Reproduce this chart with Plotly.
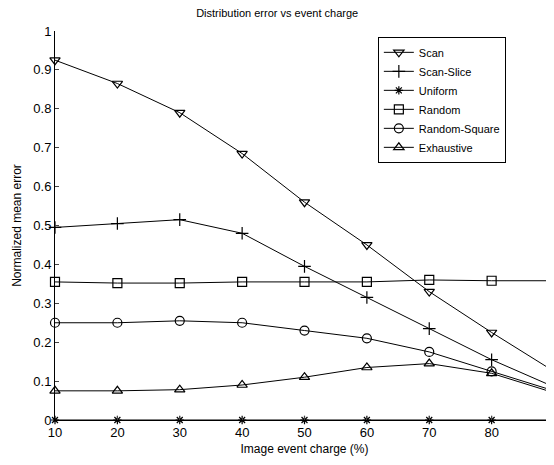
import plotly.graph_objects as go

x_vals = [10, 20, 30, 40, 50, 60, 70, 80, 90]
scan = [0.925, 0.865, 0.79, 0.685, 0.56, 0.45, 0.33, 0.225, 0.125]
scan_slice = [0.495, 0.505, 0.515, 0.48, 0.395, 0.315, 0.235, 0.155, 0.085]
uniform = [0, 0, 0, 0, 0, 0, 0, 0, 0]
random_ = [0.355, 0.352, 0.352, 0.355, 0.355, 0.355, 0.36, 0.358, 0.358]
random_square = [0.25, 0.25, 0.255, 0.25, 0.23, 0.21, 0.175, 0.125, 0.075]
exhaustive = [0.075, 0.075, 0.078, 0.09, 0.11, 0.135, 0.145, 0.12, 0.07]

series = [
    ("Scan", scan, "triangle-down-open", 9),
    ("Scan-Slice", scan_slice, "cross-thin", 9),
    ("Uniform", uniform, "asterisk-open", 7),
    ("Random", random_, "square-open", 9),
    ("Random-Square", random_square, "circle-open", 9),
    ("Exhaustive", exhaustive, "triangle-up-open", 9),
]

fig = go.Figure()
for name, ys, sym, sz in series:
    fig.add_trace(go.Scatter(
        x=x_vals, y=ys, name=name, mode="lines+markers",
        line=dict(color="black", width=1),
        marker=dict(symbol=sym, size=sz, color="black",
                    line=dict(color="black", width=1.2)),
        cliponaxis=False,
    ))

font_family = "Liberation Sans, Arial, sans-serif"
fig.update_layout(
    width=546, height=457,
    margin=dict(l=47, r=0, t=23, b=45, autoexpand=False),
    paper_bgcolor="white", plot_bgcolor="white",
    font=dict(family=font_family, size=12, color="black"),
    title=dict(text="Distribution error vs event charge", x=0.493, xref="container",
               xanchor="center", y=0.997, yref="container", yanchor="top",
               font=dict(size=11, family=font_family, color="black")),
    showlegend=True,
    legend=dict(x=0.647, y=0.985, xanchor="left", yanchor="top",
                bgcolor="white", bordercolor="black", borderwidth=1,
                font=dict(size=11, family=font_family), itemwidth=30,
                tracegroupgap=0),
    xaxis=dict(range=[10, 90], tickvals=x_vals, ticks="inside", ticklen=4,
               showline=True, linecolor="black", linewidth=1, showgrid=False,
               zeroline=False, tickfont=dict(size=13), automargin=False,
               title=dict(text="Image event charge (%)", font=dict(size=12), standoff=6)),
    yaxis=dict(range=[0, 1], tickvals=[0, 0.1, 0.2, 0.3, 0.4, 0.5, 0.6, 0.7, 0.8, 0.9, 1],
               ticktext=["0", "0.1", "0.2", "0.3", "0.4", "0.5", "0.6", "0.7", "0.8", "0.9", "1"],
               ticks="inside", ticklen=4,
               showline=True, linecolor="black", linewidth=1, showgrid=False,
               zeroline=False, tickfont=dict(size=13), automargin=False,
               title=dict(text="Normalized mean error", font=dict(size=12), standoff=9)),
)

fig.write_html("out.html")
